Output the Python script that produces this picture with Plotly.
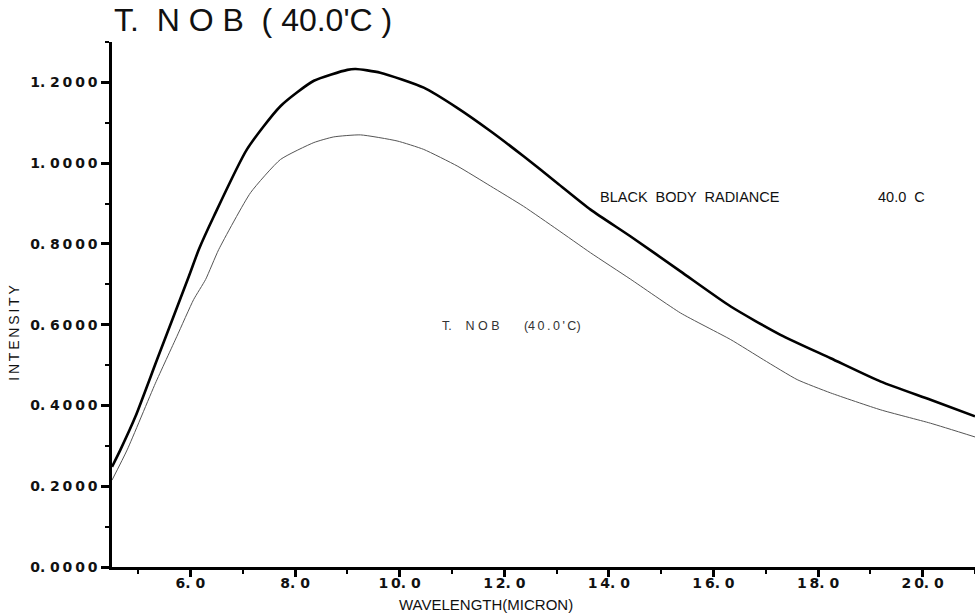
import plotly.graph_objects as go

# Black body radiance (thick curve)
wl_bb = [4.5, 4.66, 4.95, 5.36, 5.97, 6.16, 6.45, 7.08, 7.72, 8.36, 9.0, 9.16, 9.63,
         10.46, 11.10, 11.74, 12.37, 13.01, 13.65, 14.41, 15.37, 16.33, 17.28,
         18.24, 19.20, 20.15, 21.0]
bb = [0.248, 0.290, 0.373, 0.513, 0.720, 0.786, 0.869, 1.034, 1.141, 1.204, 1.231, 1.233, 1.224,
      1.187, 1.137, 1.079, 1.017, 0.951, 0.885, 0.819, 0.732, 0.645, 0.575,
      0.517, 0.459, 0.414, 0.373]

# Sample T. NOB (40.0'C) (thin curve)
wl_s = [4.5, 4.79, 5.33, 5.74, 6.06, 6.29, 6.54, 7.15, 7.72, 8.36, 8.74, 9.25, 9.95,
        10.46, 11.10, 11.74, 12.37, 13.01, 13.65, 14.41, 15.37, 16.33, 16.96,
        17.60, 18.24, 19.20, 20.15, 21.0]
s = [0.215, 0.290, 0.455, 0.571, 0.662, 0.712, 0.786, 0.927, 1.009, 1.051, 1.065, 1.070, 1.055,
     1.034, 0.993, 0.943, 0.893, 0.836, 0.778, 0.713, 0.629, 0.563, 0.513,
     0.464, 0.431, 0.389, 0.356, 0.322]

T = "\u2009"  # thin space
x_tickvals = [6, 8, 10, 12, 14, 16, 18, 20]
x_ticktext = ["6. 0", "8. 0", "1" + T + "0. 0", "1" + T + "2. 0", "1" + T + "4. 0",
              "1" + T + "6. 0", "1" + T + "8. 0", "2" + T + "0. 0"]
y_tickvals = [0, 0.2, 0.4, 0.6, 0.8, 1.0, 1.2]
y_ticktext = ["0. " + T.join("0000"), "0. " + T.join("2000"), "0. " + T.join("4000"),
              "0. " + T.join("6000"), "0. " + T.join("8000"), "1. " + T.join("0000"),
              "1. " + T.join("2000")]

fig = go.Figure()
fig.add_trace(go.Scatter(x=wl_s, y=s, mode="lines",
                         line=dict(color="#555555", width=1, shape="spline", smoothing=0.5),
                         name="T. NOB (40.0'C)", showlegend=False))
fig.add_trace(go.Scatter(x=wl_bb, y=bb, mode="lines",
                         line=dict(color="#000000", width=2.6, shape="spline", smoothing=0.6),
                         name="BLACK BODY RADIANCE", showlegend=False))

tickfont = dict(family="DejaVu Sans", size=14, color="#111111", weight="bold")

fig.update_layout(
    width=975, height=616,
    margin=dict(l=112, r=0, t=42, b=49),
    paper_bgcolor="white", plot_bgcolor="white",
    xaxis=dict(range=[4.5, 21.0], showgrid=False, zeroline=False,
               showline=True, linecolor="black", linewidth=2.5,
               tickmode="array", tickvals=x_tickvals, ticktext=x_ticktext,
               ticks="outside", ticklen=7, tickwidth=2.5, tickcolor="black",
               tickfont=tickfont, ticklabelstandoff=-6,
               minor=dict(tickvals=[5, 7, 9, 11, 13, 15, 17, 19, 21], ticks="outside",
                          ticklen=4, tickwidth=2, tickcolor="black")),
    yaxis=dict(range=[0, 1.3], showgrid=False, zeroline=False,
               showline=True, linecolor="black", linewidth=2.5,
               tickmode="array", tickvals=y_tickvals, ticktext=y_ticktext,
               ticks="outside", ticklen=8, tickwidth=2.5, tickcolor="black",
               tickfont=tickfont, ticklabelstandoff=1,
               minor=dict(tickvals=[0.1, 0.3, 0.5, 0.7, 0.9, 1.1, 1.3], ticks="outside",
                          ticklen=4, tickwidth=2, tickcolor="black")),
    showlegend=False,
)

# Title
fig.add_annotation(text="T.  N O B  ( 40.0'C )", xref="paper", yref="paper",
                   x=0, y=1, xanchor="left", yanchor="bottom", yshift=2, showarrow=False,
                   font=dict(family="Liberation Sans", size=32, color="#111111"))
# Axis titles
fig.add_annotation(text="WAVELENGTH(MICRON)", xref="paper", yref="paper",
                   x=0.433, y=0, xanchor="center", yanchor="middle", yshift=-37, showarrow=False,
                   font=dict(family="Liberation Sans", size=15, color="#111111"))
fig.add_annotation(text=T.join("INTENSITY"), xref="paper", yref="y",
                   x=0, y=0.58, xanchor="center", yanchor="middle", xshift=-98,
                   textangle=-90, showarrow=False,
                   font=dict(family="Liberation Sans", size=14, color="#111111"))
# Curve labels
fig.add_annotation(text="BLACK  BODY  RADIANCE", x=13.8, y=0.915, xanchor="left",
                   yanchor="middle", showarrow=False,
                   font=dict(family="Liberation Sans", size=14.5, color="#111111"))
fig.add_annotation(text="40.0  C", x=19.1, y=0.915, xanchor="left",
                   yanchor="middle", showarrow=False,
                   font=dict(family="Liberation Sans", size=14.5, color="#111111"))
fig.add_annotation(text="T.    N O B       (" + T.join("40.0'C") + ")", x=10.78, y=0.597,
                   xanchor="left", yanchor="middle", showarrow=False,
                   font=dict(family="Liberation Sans", size=12.5, color="#333333"))

fig.write_html("out.html", config={"displayModeBar": False},
               post_script="document.body.style.margin='0';")
